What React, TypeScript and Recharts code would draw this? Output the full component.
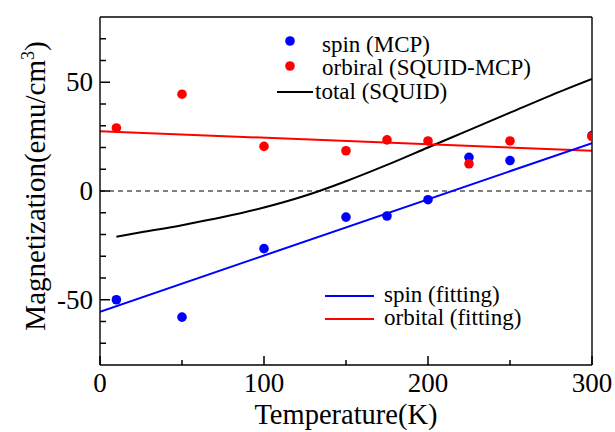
import React from "react";
import {
  ComposedChart,
  Line,
  Scatter,
  XAxis,
  YAxis,
  ReferenceLine,
  Customized,
} from "recharts";

// measured points (MCP / SQUID-MCP)
const tempPts = [10, 50, 100, 150, 175, 200, 225, 250, 300];
const spinMcp = [-50, -58, -26.5, -12, -11.5, -4, 15.5, 14, 25.5];
const orbitalDiff = [29, 44.5, 20.5, 18.5, 23.5, 23, 12.5, 23, 25];

// SQUID total curve
const tempTotal = [10, 25, 50, 75, 100, 125, 150, 175, 200, 225, 250, 275, 300];
const totalSquid = [-21, -19, -15.7, -12, -7.6, -2.2, 4.5, 12, 20, 28, 36, 44, 51.5];

// linear fits (end points)
const tempFit = [0, 300];
const spinFit = [-55.5, 22];
const orbitalFit = [27.5, 18.5];

const xTicks = [0, 50, 100, 150, 200, 250, 300];
const yTicks = [-70, -60, -50, -40, -30, -20, -10, 0, 10, 20, 30, 40, 50, 60, 70];

const toRows = (xs: number[], ys: number[]) => xs.map((t, i) => ({ t, v: ys[i] }));

const spinData = toRows(tempPts, spinMcp);
const orbitalData = toRows(tempPts, orbitalDiff);
const totalData = toRows(tempTotal, totalSquid);
const spinFitData = toRows(tempFit, spinFit);
const orbitalFitData = toRows(tempFit, orbitalFit);

const FONT = "Liberation Serif, Times New Roman, serif";
const TICK_W = 1.5;

const BottomTick = (props: any) => {
  const { x, y, payload } = props;
  const major = payload.value % 100 === 0;
  return (
    <g>
      <line x1={x} x2={x} y1={y} y2={y - (major ? 9 : 5)} stroke="#000" strokeWidth={TICK_W} />
      {major && (
        <text x={x} y={y + 27} textAnchor="middle" style={{ fontFamily: FONT }} fontSize={27} fill="#000">
          {payload.value}
        </text>
      )}
    </g>
  );
};

const TopTick = (props: any) => {
  const { x, y, payload } = props;
  const major = payload.value % 100 === 0;
  return <line x1={x} x2={x} y1={y} y2={y + (major ? 9 : 7)} stroke="#000" strokeWidth={TICK_W} />;
};

const LeftTick = (props: any) => {
  const { x, y, payload } = props;
  const major = payload.value % 50 === 0;
  return (
    <g>
      <line x1={x} x2={x + (major ? 10 : 6)} y1={y} y2={y} stroke="#000" strokeWidth={TICK_W} />
      {major && (
        <text x={x - 7} y={y + 9} textAnchor="end" style={{ fontFamily: FONT }} fontSize={27} fill="#000">
          {payload.value}
        </text>
      )}
    </g>
  );
};

const RightTick = (props: any) => {
  const { x, y, payload } = props;
  const major = payload.value % 50 === 0;
  return <line x1={x} x2={x - (major ? 10 : 6)} y1={y} y2={y} stroke="#000" strokeWidth={TICK_W} />;
};

const dot = (color: string) => (p: any) => <circle cx={p.cx} cy={p.cy} r={4.8} fill={color} />;

const Annotations = () => (
  <g style={{ fontFamily: FONT }} fill="#000">
    {/* axis titles */}
    <text x={346} y={424} textAnchor="middle" fontSize={28.5}>
      Temperature(K)
    </text>
    <text transform="translate(45,186) rotate(-90)" textAnchor="middle" fontSize={29}>
      Magnetization(emu/cm
      <tspan dy={-11} fontSize={18}>3</tspan>
      <tspan dy={11}>)</tspan>
    </text>

    {/* upper legend */}
    <circle cx={290} cy={41} r={4.8} fill="#0000ff" />
    <text x={322} y={52} fontSize={23}>spin (MCP)</text>
    <circle cx={290} cy={66} r={4.8} fill="#ff0000" />
    <text x={322} y={75} fontSize={23}>orbiral (SQUID-MCP)</text>
    <line x1={277} x2={313} y1={92} y2={92} stroke="#000" strokeWidth={2} />
    <text x={315} y={99} fontSize={23}>total (SQUID)</text>

    {/* lower legend */}
    <line x1={325} x2={374} y1={296} y2={296} stroke="#0000ff" strokeWidth={2} />
    <text x={384} y={302} fontSize={23}>spin (fitting)</text>
    <line x1={325} x2={374} y1={319} y2={319} stroke="#ff0000" strokeWidth={2} />
    <text x={384} y={325} fontSize={23}>orbital (fitting)</text>
  </g>
);

export default function App() {
  return (
    <div style={{ position: "absolute", left: 0, top: 0, background: "#fff" }}>
      <ComposedChart width={615} height={432} margin={{ top: 16, right: 22, bottom: 0, left: 0 }}>
        <XAxis
          dataKey="t"
          type="number"
          domain={[0, 300]}
          ticks={xTicks}
          interval={0}
          height={67}
          tickSize={0}
          tickMargin={0}
          tick={<BottomTick />}
          axisLine={{ stroke: "#000", strokeWidth: 1.4 }}
          allowDataOverflow
        />
        <XAxis
          xAxisId="top"
          orientation="top"
          dataKey="t"
          type="number"
          domain={[0, 300]}
          ticks={xTicks}
          interval={0}
          height={1}
          tickSize={0}
          tickMargin={0}
          tick={<TopTick />}
          axisLine={{ stroke: "#000", strokeWidth: 1.4 }}
        />
        <YAxis
          dataKey="v"
          type="number"
          domain={[-80, 80]}
          ticks={yTicks}
          interval={0}
          width={100}
          tickSize={0}
          tickMargin={0}
          tick={<LeftTick />}
          axisLine={{ stroke: "#000", strokeWidth: 1.4 }}
          allowDataOverflow
        />
        <YAxis
          yAxisId="right"
          orientation="right"
          dataKey="v"
          type="number"
          domain={[-80, 80]}
          ticks={yTicks}
          interval={0}
          width={1}
          tickSize={0}
          tickMargin={0}
          tick={<RightTick />}
          axisLine={{ stroke: "#000", strokeWidth: 1.4 }}
        />
        <ReferenceLine y={0} stroke="#000" strokeWidth={1} strokeDasharray="5 4" />
        <Line data={totalData} dataKey="v" type="monotone" stroke="#000" strokeWidth={2} dot={false} isAnimationActive={false} />
        <Line data={orbitalFitData} dataKey="v" type="linear" stroke="#ff0000" strokeWidth={2} dot={false} isAnimationActive={false} />
        <Line data={spinFitData} dataKey="v" type="linear" stroke="#0000ff" strokeWidth={2} dot={false} isAnimationActive={false} />
        <Scatter data={spinData} dataKey="v" shape={dot("#0000ff")} isAnimationActive={false} />
        <Scatter data={orbitalData} dataKey="v" shape={dot("#ff0000")} isAnimationActive={false} />
        <Customized component={Annotations} />
      </ComposedChart>
    </div>
  );
}
